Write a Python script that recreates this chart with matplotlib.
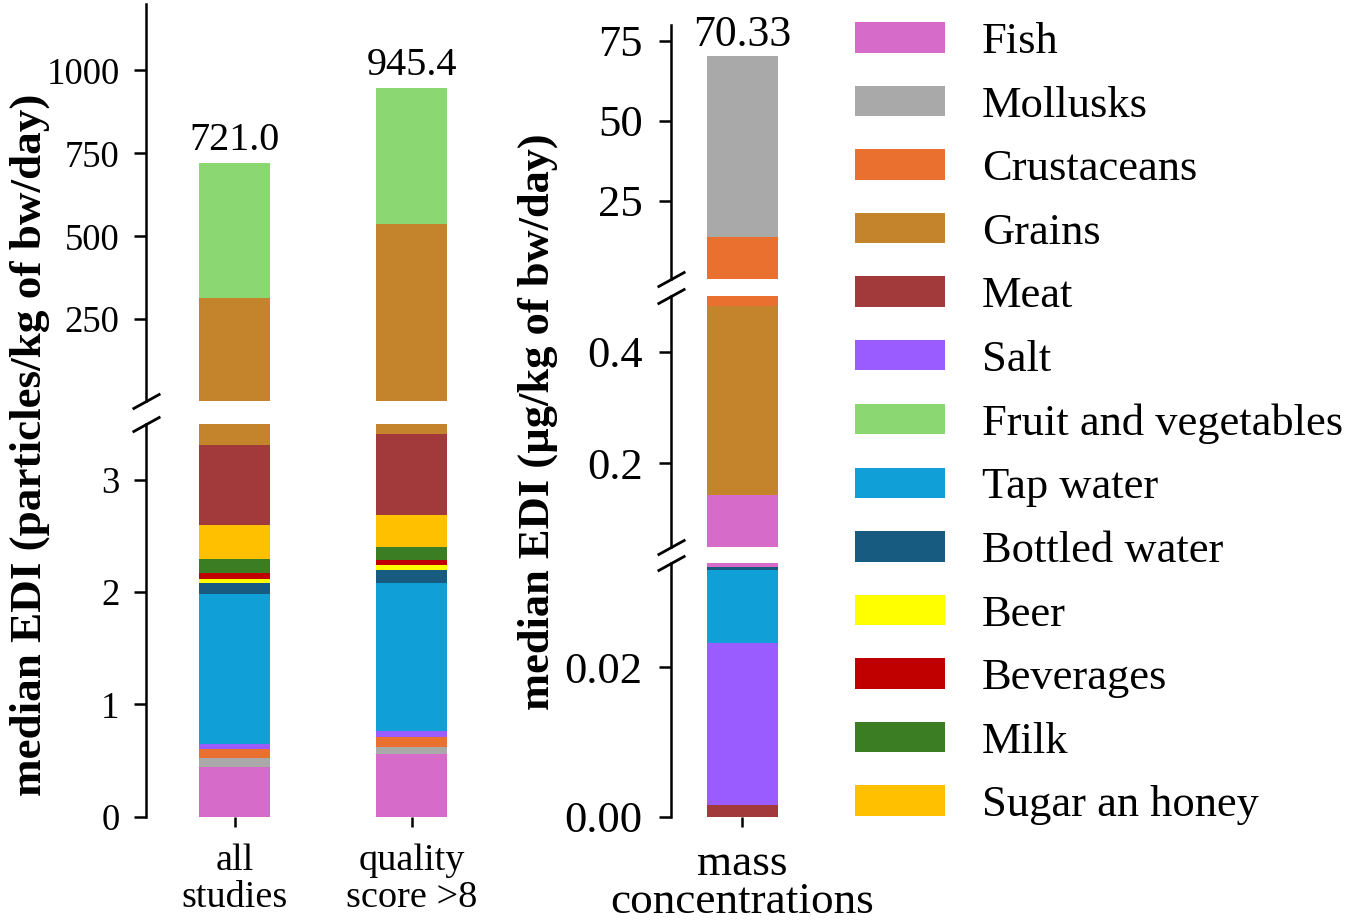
import matplotlib
matplotlib.use('Agg')
import matplotlib.pyplot as plt
from matplotlib.patches import Patch

plt.rcParams['font.family'] = ['Liberation Serif', 'DejaVu Serif']

# ---------------- data ----------------
categories = ['Fish', 'Mollusks', 'Crustaceans', 'Grains', 'Meat', 'Salt',
              'Fruit and vegetables', 'Tap water', 'Bottled water', 'Beer',
              'Beverages', 'Milk', 'Sugar an honey']
cat_colors = ['#d76bca', '#a9a9a9', '#e9702f', '#c4842c', '#a23a3b', '#9b5cff',
              '#8bd873', '#119fd7', '#175c80', '#ffff00', '#c00000', '#3a7d23',
              '#ffc000']

left_groups = ['all\nstudies', 'quality\nscore >8']
left_order = ['Fish', 'Mollusks', 'Crustaceans', 'Salt', 'Tap water',
              'Bottled water', 'Beer', 'Beverages', 'Milk', 'Sugar an honey',
              'Meat', 'Grains', 'Fruit and vegetables']
all_studies = [0.44, 0.08, 0.08, 0.05, 1.33, 0.10, 0.04, 0.05, 0.13, 0.30,
               0.71, 311.7, 406.0]
quality_gt8 = [0.56, 0.06, 0.09, 0.05, 1.32, 0.12, 0.04, 0.05, 0.11, 0.29,
               0.72, 533.6, 408.39]

right_groups = ['mass\nconcentrations']
right_order = ['Meat', 'Salt', 'Tap water', 'Bottled water', 'Fish', 'Grains',
               'Crustaceans', 'Mollusks']
mass_conc = [0.0015, 0.0218, 0.0098, 0.0004, 0.1095, 0.339, 13.168, 56.68]

left_top_ticks = [250, 500, 750, 1000]
left_bot_ticks = [0, 1, 2, 3]
right_top_ticks = [25, 50, 75]
right_mid_ticks = [0.2, 0.4]
right_bot_ticks = [0.00, 0.02]

color_of = dict(zip(categories, cat_colors))

# ---------------- figure ----------------
W, H = 1350, 922
fig = plt.figure(figsize=(W / 100, H / 100), dpi=100)


def px_axes(x0, y0, x1, y1):
    return fig.add_axes([x0 / W, 1 - y1 / H, (x1 - x0) / W, (y1 - y0) / H])


SPW = 1.8


def style(ax, bottom_axis, ticks, fs, xfs, ypad, xpad, fmt=None):
    for s in ['top', 'right', 'bottom']:
        ax.spines[s].set_visible(False)
    ax.spines['left'].set_linewidth(SPW)
    ax.set_yticks(ticks)
    if fmt:
        ax.set_yticklabels([fmt.format(t) for t in ticks])
    ax.tick_params(axis='y', labelsize=fs, length=8.5, width=SPW, pad=ypad)
    ax.tick_params(axis='x', labelsize=xfs, length=7, width=SPW, pad=xpad)
    if not bottom_axis:
        ax.tick_params(axis='x', bottom=False, labelbottom=False)


def breakmark(ax, y):
    ax.plot([0], [y], transform=ax.transAxes, marker=[(-1, -0.55), (1, 0.55)],
            markersize=20, linestyle='none', color='k', mec='k', mew=2,
            clip_on=False)


def draw_stack(axes, xs, groups_vals, order):
    for ax in axes:
        for xi, vals in zip(xs, groups_vals):
            cum = 0.0
            for name, v in zip(order, vals):
                ax.bar(xi, v, bottom=cum, width=0.4, color=color_of[name],
                       linewidth=0)
                cum += v


# left panel
LFS_T = 26.5
LFS_X = 27.5
axL_top = px_axes(146, 4, 500, 401)
axL_bot = px_axes(146, 424, 500, 816.5)
xs_left = list(range(len(left_groups)))
draw_stack([axL_top, axL_bot], xs_left, [all_studies, quality_gt8], left_order)
for ax in (axL_top, axL_bot):
    ax.set_xlim(-0.5, 1.5)
axL_top.set_ylim(3.5, 1200)
axL_bot.set_ylim(0, 3.5)
style(axL_top, False, left_top_ticks, LFS_T, LFS_X, 10.5, 12.5)
style(axL_bot, True, left_bot_ticks, LFS_T, LFS_X, 10.5, 12.5)
axL_bot.set_xticks(xs_left)
axL_bot.set_xticklabels(left_groups, linespacing=1.1)
for xi, vals in zip(xs_left, [all_studies, quality_gt8]):
    tot = sum(vals)
    axL_top.annotate(f'{tot:.1f}', (xi, tot), xytext=(0, 3),
                     textcoords='offset points', ha='center', va='bottom',
                     fontsize=29)
breakmark(axL_top, 0)
breakmark(axL_bot, 1)

# right panel
RFS_T = 32
RFS_X = 32.5
axR_top = px_axes(671, 25, 813, 279)
axR_mid = px_axes(671, 296, 813, 547)
axR_bot = px_axes(671, 563, 813, 816.5)
xs_right = list(range(len(right_groups)))
draw_stack([axR_top, axR_mid, axR_bot], xs_right, [mass_conc], right_order)
for ax in (axR_top, axR_mid, axR_bot):
    ax.set_xlim(-0.4, 0.4)
axR_top.set_ylim(0.5, 80)
axR_mid.set_ylim(0.05, 0.5)
axR_bot.set_ylim(0, 0.034)
style(axR_top, False, right_top_ticks, RFS_T, RFS_X, 12, 12.5)
style(axR_mid, False, right_mid_ticks, RFS_T, RFS_X, 12, 12.5, '{:.1f}')
style(axR_bot, True, right_bot_ticks, RFS_T, RFS_X, 12, 12.5, '{:.2f}')
axR_bot.set_xticks(xs_right)
axR_bot.set_xticklabels(right_groups, linespacing=0.95)
tot = sum(mass_conc)
axR_top.annotate(f'{tot:.2f}', (0, tot), xytext=(0, 1),
                 textcoords='offset points', ha='center', va='bottom',
                 fontsize=31.5)
breakmark(axR_top, 0)
breakmark(axR_mid, 1)
breakmark(axR_mid, 0)
breakmark(axR_bot, 1)

# y labels
fig.text(30 / W, 1 - 445 / H, 'median EDI (particles/kg of bw/day)',
         rotation=90, ha='center', va='center', fontsize=32.5, fontweight='bold')
fig.text(538 / W, 1 - 422 / H, 'median EDI (µg/kg of bw/day)',
         rotation=90, ha='center', va='center', fontsize=32, fontweight='bold')

# legend
handles = [Patch(facecolor=c, edgecolor='none', label=n)
           for n, c in zip(categories, cat_colors)]
LEG_FS = 32
fig.legend(handles=handles, loc='upper left',
           bbox_to_anchor=(855 / W, 1 - 22 / H), frameon=False,
           fontsize=LEG_FS, handlelength=2.03, handleheight=0.675,
           handletextpad=0.83, labelspacing=0.53, borderpad=0,
           borderaxespad=0)

fig.savefig('out.png', dpi=100)
